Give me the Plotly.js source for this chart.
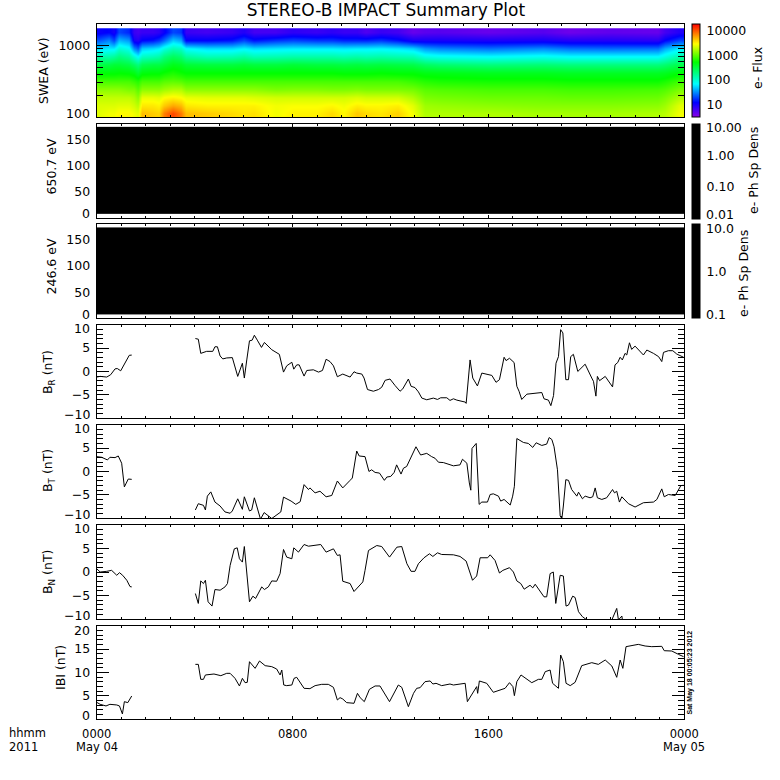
<!DOCTYPE html>
<html><head><meta charset="utf-8">
<script src="https://cdn.plot.ly/plotly-3.0.1.min.js"></script>
<style>html,body{margin:0;padding:0;background:#fff}#c{width:780px;height:780px}</style>
</head><body><div id="c"></div>
<script>
// ---------- SWEA spectrogram (log10 flux), one row per time column, low energy first
const sweaEnergyEdges=[100,130,168,218,282,366,474,615,797,1033,1339,1735];
const sweaHours=[0.1,0.5,0.7,0.9,1.3,1.5,1.68,1.82,2.3,2.55,2.75,3.1,3.45,3.65,4.5,5.5,6.0,6.4,7.3,8,9,9.6,10.1,10.6,11.0,11.6,12.3,12.9,13.4,14,16,18.2,19.3,21,22.9,23.2,23.8];
const sweaColumns=[
[3.4,3.38,3.3,3.15,2.95,2.72,2.5,2.15,1.75,1.35,1.05],
[3.45,3.38,3.3,3.15,2.95,2.72,2.5,2.15,1.8,1.5,1.1],
[3.45,3.38,3.3,3.15,2.95,2.72,2.55,2.2,1.8,1.3,1.0],
[3.5,3.4,3.3,3.15,2.95,2.74,2.55,2.3,2.0,1.65,1.3],
[3.5,3.4,3.3,3.1,2.95,2.72,2.5,2.2,1.9,1.55,1.2],
[3.45,3.35,3.25,3.1,2.9,2.68,2.4,2.0,1.5,1.0,.85],
[3.4,3.28,3.15,3.0,2.85,2.58,2.3,1.85,1.35,.95,.8],
[3.7,3.55,3.42,3.15,2.95,2.7,2.45,2.05,1.7,1.1,.85],
[3.65,3.55,3.42,3.15,2.95,2.72,2.5,2.1,1.75,1.15,.85],
[3.62,3.52,3.4,3.15,2.95,2.72,2.5,2.15,1.8,1.25,.9],
[3.9,3.65,3.48,3.2,3.0,2.77,2.55,2.3,1.95,1.4,1.05],
[4.08,3.76,3.52,3.25,3.02,2.82,2.65,2.42,2.1,1.7,1.3],
[3.92,3.7,3.48,3.25,3.0,2.77,2.62,2.35,2.05,1.6,1.25],
[3.7,3.55,3.42,3.15,2.95,2.74,2.55,2.2,1.85,1.1,.85],
[3.65,3.52,3.4,3.15,2.95,2.74,2.52,2.1,1.75,1.1,.8],
[3.6,3.52,3.4,3.15,2.95,2.74,2.52,2.12,1.75,1.15,.85],
[3.56,3.52,3.4,3.15,2.95,2.74,2.55,2.18,1.82,1.3,.95],
[3.58,3.52,3.38,3.15,2.95,2.74,2.52,2.1,1.75,1.15,.8],
[3.45,3.45,3.35,3.1,2.95,2.74,2.52,2.12,1.78,1.25,.8],
[3.52,3.47,3.35,3.12,2.95,2.74,2.55,2.15,1.8,1.3,.9],
[3.52,3.47,3.35,3.12,2.95,2.74,2.52,2.15,1.8,1.25,.85],
[3.6,3.5,3.35,3.1,2.95,2.74,2.52,2.15,1.8,1.25,.9],
[3.5,3.45,3.35,3.1,2.95,2.72,2.5,2.12,1.78,1.2,.85],
[3.66,3.53,3.38,3.12,2.95,2.72,2.52,2.15,1.8,1.2,.85],
[3.6,3.5,3.35,3.1,2.95,2.72,2.5,2.12,1.8,1.2,.75],
[3.56,3.5,3.35,3.1,2.95,2.74,2.52,2.15,1.82,1.25,.85],
[3.63,3.53,3.35,3.1,2.95,2.72,2.5,2.12,1.78,1.15,.8],
[3.45,3.4,3.25,3.08,2.9,2.72,2.48,2.1,1.72,1.0,.65],
[3.25,3.2,3.1,3.0,2.85,2.68,2.4,1.95,1.55,1.0,.7],
[3.25,3.18,3.08,2.98,2.82,2.67,2.35,1.9,1.48,1.0,.72],
[3.25,3.15,3.05,2.95,2.8,2.64,2.3,1.85,1.42,.98,.65],
[3.22,3.13,3.05,2.95,2.8,2.64,2.33,1.9,1.5,1.0,.72],
[3.22,3.13,3.03,2.93,2.78,2.62,2.3,1.85,1.42,.95,.62],
[3.22,3.13,3.03,2.93,2.78,2.62,2.3,1.85,1.4,.95,.68],
[3.25,3.15,3.05,2.95,2.78,2.62,2.3,1.85,1.42,.92,.65],
[3.28,3.2,3.1,2.98,2.82,2.64,2.35,1.95,1.6,1.1,.8],
[3.45,3.4,3.25,3.1,2.93,2.72,2.48,2.15,1.8,1.3,.95]
];
const fluxColorStops=[[0,'#8a00e6'],[0.155,'#0000ff'],[0.355,'#00ffff'],[0.59,'#00ff00'],[0.785,'#ffff00'],[0.88,'#ff9000'],[1,'#ff0000']];
// ---------- pitch-angle panels: every value is below the colour range
const pitchHours=[0,24];
const pitchEdges=[8,91,174];
const density650=[[-3],[-3]];
const density246=[[-3],[-3]];
// ---------- magnetic field
const brHours=[0,.14,.41,.57,.75,.84,.98,1.09,1.33,1.43,null,
4.03,4.15,4.25,4.38,4.49,4.74,4.83,4.93,5.04,5.15,5.31,5.54,5.76,5.95,6.03,6.13,6.24,6.35,6.44,6.56,6.73,6.85,7.15,7.46,7.63,7.76,7.97,8.05,8.17,8.27,8.47,8.58,8.85,9.06,9.22,9.37,9.53,9.67,9.83,10.05,10.21,
10.35,10.51,10.62,10.83,10.92,11.06,11.3,11.51,11.64,11.78,11.98,12.19,12.39,12.5,12.73,12.84,13.0,13.14,13.28,13.48,13.75,13.92,14.05,14.3,14.43,14.57,14.71,15.05,15.09,15.25,15.36,15.55,15.73,16.14,16.31,16.45,16.64,16.72,16.86,17.05,17.16,17.25,17.36,17.57,18.18,18.27,18.45,18.55,18.66,18.76,18.86,18.95,19.04,19.16,19.27,19.36,19.47,19.65,19.95,20.22,20.29,20.39,20.45,20.54,20.77,21.07,21.17,21.28,21.38,21.47,21.58,21.65,21.76,21.85,21.99,22.33,22.47,22.74,22.95,23.08,23.15,23.35,23.53,23.69,23.97];
const brValues=[-1.2,-1.05,-1.2,-.7,.55,.63,.14,1.2,3.45,3.5,null,
7.04,6.9,3.87,4.08,4.3,4.3,5.28,5.28,3.31,2.68,2.89,2.96,-1.06,1.76,-1.41,2.46,6.55,6.69,7.75,6.69,5.14,6.2,4.65,3.66,-.14,1.2,1.97,.49,1.41,1.41,-.99,.21,.35,-.14,.21,2.61,2.11,1.2,-1.13,-.56,-.99,
-1.2,-.07,-.35,-.56,-1.41,-3.87,-4.23,-3.87,-3.38,-1.9,-1.62,-3.03,-4.23,-3.73,-1.62,-3.17,-3.45,-4.37,-5.7,-6.06,-5.7,-5.99,-5.63,-5.63,-6.2,-5.85,-6.13,-6.55,-6.83,2.46,-1.41,-3.1,-.35,-.85,-2.32,-1.76,3.03,2.32,2.82,1.9,-3.17,-4.23,-5.99,-4.86,-4.51,-5.85,-6.13,-7.32,-5.14,1.76,3.17,8.94,8.24,-1.76,-1.76,3.17,3.66,0,1.55,-1.41,-2.11,-5.28,-1.06,-1.97,-1.06,-3.31,1.41,1.9,3.03,2.46,3.87,3.52,6.13,4.72,5.42,3.52,4.58,3.87,3.17,2.11,4.08,4.44,4.44,3.73,3.03];
const btHours=[0,.2,.44,.54,.75,.88,1.02,1.13,1.29,1.43,null,
4.03,4.15,4.36,4.44,4.52,4.66,4.83,5.04,5.24,5.45,5.54,5.76,5.95,6.03,6.24,6.33,6.44,6.56,6.69,6.84,7.15,7.52,7.63,7.94,8.13,8.31,8.47,8.65,8.71,8.92,9.12,9.37,9.6,9.83,10.05,
10.35,10.44,10.62,10.72,10.96,11.12,11.23,11.37,11.55,11.75,11.85,12.01,12.15,12.25,12.43,12.53,12.66,12.87,13.04,13.23,13.48,13.68,13.82,13.96,14.16,14.57,14.84,14.94,15.12,15.22,15.28,15.33,15.5,15.62,15.73,15.96,16.07,16.2,16.41,16.5,16.64,16.89,16.99,17.06,17.16,17.43,17.63,17.81,17.95,18.18,18.38,18.48,18.59,18.68,18.82,18.93,19.0,19.06,19.16,19.27,19.4,19.61,19.68,19.84,19.95,20.15,20.26,20.36,20.45,20.63,20.83,21.07,21.15,21.24,21.35,21.45,21.72,21.99,22.33,22.74,22.88,23.08,23.18,23.35,23.63,23.86,23.97];
const btValues=[3.17,3.03,2.46,3.03,2.96,3.31,1.76,-3.31,-1.62,-1.69,null,
-8.24,-6.9,-7.25,-8.24,-5.28,-4.37,-6.55,-7.39,-8.66,-8.94,-8.45,-5.85,-8.1,-5.42,-8.45,-8.24,-5.63,-7.75,-10.2,-8.8,-10.07,-8.66,-5.49,-6.34,-7.04,-6.48,-2.82,-3.87,-3.52,-4.58,-4.23,-5.42,-5.14,-2.04,-3.52,
-1.9,-1.41,4.37,3.31,3.17,0,.35,-.21,-.35,-1.9,-1.2,-1.06,-.21,1.41,-.56,.7,1.06,3.52,5.28,3.52,3.87,3.17,2.82,1.97,1.9,1.2,1.41,2.61,1.76,-2.46,-4.01,4.93,5.99,-7.04,-6.55,-6.55,-4.93,-4.79,-5.28,-6.34,-5.99,-7.18,-5.28,-3.17,7.04,6.2,5.99,5.14,6.13,5.56,5.85,7.25,6.83,5.28,.35,-9.51,-10.1,-7.39,-1.76,-1.9,-3.87,-5.28,-4.44,-5.85,-5.28,-5.63,-5.42,-3.52,-5.63,-5.99,-5.63,-3.87,-4.58,-4.23,-6.55,-5.42,-6.9,-7.61,-6.69,-6.55,-5.99,-3.73,-5.42,-4.93,-5.14,-3.03,-2.96];
const bnHours=[0,.14,.41,.61,.75,.82,.93,1.06,1.23,1.36,1.43,null,
4.03,4.15,4.25,4.36,4.44,4.55,4.71,4.83,5.04,5.24,5.34,5.45,5.62,5.74,5.83,5.95,6.03,6.13,6.24,6.38,6.49,6.74,6.85,7.01,7.15,7.35,7.49,7.63,7.76,7.97,8.05,8.24,8.47,8.65,9.15,9.37,9.67,9.83,9.94,10.05,
10.35,10.51,10.87,10.96,11.1,11.44,11.64,11.96,12.26,12.46,12.67,12.84,13.0,13.14,13.37,13.59,13.73,13.92,14.09,14.57,14.84,15.09,15.35,15.52,15.66,15.97,16.07,16.27,16.45,16.59,16.86,17.02,17.16,17.32,17.46,17.7,17.81,17.91,18.11,18.27,18.38,18.52,18.65,18.75,18.93,19.06,19.17,19.27,19.44,19.54,19.68,19.84,20.02,21.04,21.24,21.31,21.45,21.48];
const bnValues=[.7,0,.14,.35,-.35,-.7,-.14,-.7,-1.76,-3.1,-3.17,null,
-4.58,-6.69,-1.9,-2.46,-1.76,-6.34,-7.25,-3.73,-3.87,-3.17,-2.46,1.41,4.93,5.14,2.82,2.11,5.42,.35,-6.34,-5.14,-5.63,-3.17,-3.73,-3.17,-1.9,-1.97,-.35,4.79,3.17,2.82,5.14,4.23,5.85,5.49,5.85,4.23,4.93,3.52,3.66,-1.97,
-2.46,-4.15,-2.11,.35,4.58,5.63,5.42,3.17,5.28,5.42,1.76,.14,.14,1.76,3.03,3.87,3.31,4.08,3.73,3.66,3.31,2.32,-1.76,-.85,3.03,3.03,3.66,2.46,-.21,.35,.92,0,-1.9,-2.46,-3.66,-2.82,-3.38,-2.6,-4.23,-5.28,-5.28,-.35,0,-6.69,-.7,-.85,-7.25,-7.04,-5.14,-5.42,-8.45,-9.51,-10.2,-10.2,-7.75,-10.2,-9.37,-10.5];
const bmagHours=[0,.14,.38,.54,.82,.93,1.05,1.13,1.27,1.43,null,
4.03,4.15,4.25,4.36,4.44,4.7,4.79,5.07,5.31,5.45,5.65,5.83,5.95,6.06,6.15,6.24,6.47,6.65,6.88,7.15,7.35,7.49,7.56,7.64,7.76,7.97,8.06,8.17,8.47,8.71,8.92,9.19,9.46,9.67,9.83,9.94,10.05,10.21,
10.35,10.51,10.65,10.76,10.93,11.14,11.37,11.57,11.96,12.32,12.46,12.73,12.94,13.07,13.21,13.41,13.62,13.73,13.86,14.09,14.43,14.57,15.05,15.14,15.52,15.56,15.63,15.93,16.2,16.68,16.86,17.0,17.06,17.16,17.33,17.77,18.04,18.18,18.32,18.52,18.62,18.86,18.95,19.06,19.17,19.34,19.54,19.68,19.81,20.22,20.49,20.77,21.04,21.24,21.38,21.49,21.62,22.12,22.4,22.67,23.08,23.18,23.49,23.76,23.97];
const bmagValues=[3.63,3.2,2.85,3.2,3.06,2.85,1.14,3.77,3.56,4.98,null,
11.74,11.74,8.54,8.54,9.47,9.61,9.68,9.32,9.82,9.82,8.75,7.12,8.75,7.83,7.9,12.31,10.89,12.46,11.46,11.25,10.75,9.47,10.53,7.33,7.19,7.33,8.75,8.97,6.62,6.55,7.19,7.47,7.47,6.83,4.13,4.63,4.34,3.56,
3.42,3.42,5.55,4.63,3.77,6.41,7.12,7.12,3.77,7.33,6.83,2.7,5.55,6.62,6.76,8.04,8.19,7.54,7.69,7.19,7.54,7.33,7.69,3.77,6.98,5.55,8.19,7.69,5.77,6.62,7.83,6.98,5.05,8.04,9.47,7.83,8.54,8.54,10.18,10.53,7.69,6.62,13.74,12.31,7.69,7.19,7.9,9.82,11.46,12.1,11.74,12.67,11.39,8.97,12.67,10.89,15.52,16.01,15.66,15.52,15.59,14.66,14.59,13.88,13.38];
// ---------- labels
const timeTickVals=[0,8,16,24];
const timeTickText=['0000','0800','1600','0000'];

const FONT='"DejaVu Sans", sans-serif', FS=12.5, FSB=11.5, INK='#000';
const W=780, L=96.7, R=684.3;
const panels=[[23.7,117.2],[123.7,218.3],[224.3,318.3],[324.7,418.2],[424.7,518.2],[525,619],[625.7,719.3]];
const layout={width:W,height:W,paper_bgcolor:'#fff',plot_bgcolor:'#fff',showlegend:false,
  margin:{l:0,r:0,t:0,b:0,autoexpand:false},font:{family:FONT,size:FS,color:INK},
  title:{text:'STEREO-B IMPACT Summary Plot',x:386/W,xanchor:'center',y:1-10/W,yanchor:'middle',font:{family:FONT,size:17,color:INK}},
  annotations:[]};
const px=(x,y,text,o={})=>layout.annotations.push(Object.assign({xref:'paper',yref:'paper',x:x/W,y:1-y/W,text,showarrow:false,
  xanchor:'center',yanchor:'middle',font:{family:FONT,size:FS,color:INK},borderpad:0},o));
const yAxes=[
 {type:'log',range:[2,Math.log10(2009)],tickvals:[1000],ticktext:['1000'],minorVals:[200,300,400,500,600,700,800,900,2000],len:12.5},
 {range:[0,180],tickvals:[50,100,150],ticktext:['50','100','150'],len:0},
 {range:[0,180],tickvals:[50,100,150],ticktext:['50','100','150'],len:0},
 {range:[-10,10],tickvals:[-5,0,5],ticktext:['−5','0','5'],dtick:1,len:12.5},
 {range:[-10,10],tickvals:[-5,0,5],ticktext:['−5','0','5'],dtick:1,len:12.5},
 {range:[-10,10],tickvals:[-5,0,5],ticktext:['−5','0','5'],dtick:1,len:12.5},
 {range:[0,20],tickvals:[5,10,15],ticktext:['5','10','15'],dtick:1,len:12.5}];
panels.forEach((p,i)=>{
  const n=i?i+1:'', ya=yAxes[i], last=i===panels.length-1;
  layout['xaxis'+n]={domain:[L/W,R/W],range:[0,24],anchor:'y'+n,showgrid:false,zeroline:false,showline:true,mirror:'ticks',
    linecolor:INK,linewidth:1,ticks:'inside',ticklen:3,tickcolor:INK,tickwidth:1,tickmode:'array',tickvals:timeTickVals,
    ticktext:timeTickText,showticklabels:last,ticklabelstandoff:last?4:0,tickfont:{family:FONT,size:FSB,color:INK},
    minor:{ticks:'inside',ticklen:2,dtick:1,tickcolor:INK,tickwidth:1,showgrid:false}};
  const minor=ya.minorVals?{ticks:'inside',ticklen:6,tickmode:'array',tickvals:ya.minorVals,tickcolor:INK,tickwidth:1,showgrid:false}
    :ya.dtick?{ticks:'inside',ticklen:6,dtick:ya.dtick,tickcolor:INK,tickwidth:1,showgrid:false}:undefined;
  layout['yaxis'+n]={domain:[1-p[1]/W,1-p[0]/W],range:ya.range,type:ya.type||'linear',anchor:'x'+n,showgrid:false,zeroline:false,showline:true,mirror:ya.len?'ticks':true,
    linecolor:INK,linewidth:1,ticks:ya.len?'inside':'',ticklen:ya.len||0,tickcolor:INK,tickwidth:1,tickmode:'array',tickvals:ya.tickvals,ticktext:ya.ticktext,
    tickfont:{family:FONT,size:FS,color:INK},ticklabelstandoff:3,minor};
});
const bar=(top,bot,tickvals,ticktext)=>({x:692.3/W,xanchor:'left',xpad:0,ypad:0,thickness:8,thicknessmode:'pixels',len:(bot-top)/W,lenmode:'fraction',
  y:1-top/W,yanchor:'top',outlinewidth:1,outlinecolor:INK,ticks:'outside',ticklen:4,tickcolor:'rgba(0,0,0,0)',tickmode:'array',tickvals,ticktext,
  tickfont:{family:FONT,size:FS,color:INK}});
const black=[[0,'#000'],[1,'#000']];
const transpose=m=>m[0].map((_,r)=>m.map(c=>c[r]));
const line=(x,y,i)=>({type:'scatter',mode:'lines',x,y,xaxis:'x'+i,yaxis:'y'+i,line:{color:INK,width:1},connectgaps:false,hoverinfo:'skip'});
const data=[
 {type:'heatmap',x:sweaHours,y:sweaEnergyEdges,z:transpose(sweaColumns),zsmooth:'best',colorscale:fluxColorStops,zmin:0.5,zmax:4.3,xaxis:'x',yaxis:'y',hoverinfo:'skip',
  colorbar:bar(23.7,117,[1,2,3,4],['10','100','1000','10000'])},
 {type:'heatmap',x:pitchHours,y:pitchEdges,z:density650,colorscale:black,zmin:-2,zmax:1,xaxis:'x2',yaxis:'y2',hoverinfo:'skip',
  colorbar:bar(123.7,218.5,[-1,0],['0.10','1.00'])},
 {type:'heatmap',x:pitchHours,y:pitchEdges,z:density246,colorscale:black,zmin:-1,zmax:1,xaxis:'x3',yaxis:'y3',hoverinfo:'skip',
  colorbar:bar(224.3,318.5,[0],['1.0'])},
 line(brHours,brValues,4),line(btHours,btValues,5),line(bnHours,bnValues,6),line(bmagHours,bmagValues,7)];
// axis titles
const rot={textangle:-90};
px(43,71,'SWEA (eV)',rot); px(50.5,167,'650.7 eV',rot); px(50.5,267,'246.6 eV',rot);
px(48,372,'B<sub>R</sub> (nT)',rot); px(48,471,'B<sub>T</sub> (nT)',rot); px(48,572,'B<sub>N</sub> (nT)',rot); px(60,668,'IBI (nT)',rot);
// end labels that sit inside the panel edge
const right={xanchor:'right'};
px(91,113,'100',right); px(91,213.5,'0',right); px(91,314,'0',right);
[[328.5,'10'],[414.3,'−10'],[428.5,'10'],[514.3,'−10'],[528.5,'10'],[615,'−10'],[630,'20'],[715,'0']].forEach(a=>px(91,a[0],a[1],right));
const lab={xanchor:'left'};
[[128,'10.00'],[214,'0.01'],[228,'10.0'],[314,'0.1']].forEach(a=>px(705,a[0],a[1],lab));
px(757,68,'e- Flux',rot); px(753,171,'e- Ph Sp Dens',rot); px(743,274,'e- Ph Sp Dens',rot);
const small={font:{family:FONT,size:FSB,color:INK}};
px(8,732.5,'hhmm',Object.assign({},lab,small)); px(8,746.5,'2011',Object.assign({},lab,small)); px(96.5,746.5,'May 04',small); px(684,746.5,'May 05',small);
px(689.5,673,'Sat May 18 00:05:23 2012',{textangle:-90,font:{family:'"Liberation Sans", sans-serif',size:7,color:INK,weight:700}});
Plotly.newPlot('c',data,layout,{staticPlot:true,displayModeBar:false});
</script></body></html>
